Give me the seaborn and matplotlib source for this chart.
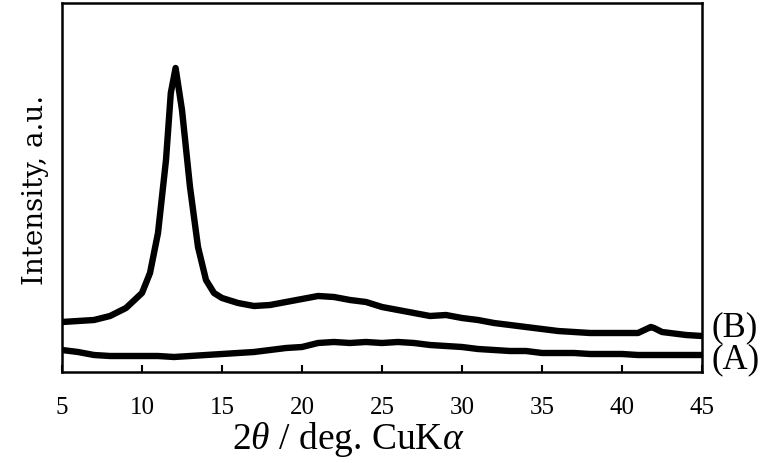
import numpy as np
import matplotlib
matplotlib.use("Agg")
import matplotlib.pyplot as plt
import pandas as pd
import seaborn as sns

# 2theta positions (deg) and intensities (arbitrary units)
two_theta_b = [5, 6, 7, 8, 9, 10, 10.5, 11, 11.5, 11.8, 12.1, 12.5, 13, 13.5, 14, 14.5,
               15, 16, 17, 18, 19, 20, 21, 22, 23, 24, 25, 26, 27, 28, 29, 30, 31, 32,
               33, 34, 35, 36, 37, 38, 39, 40, 41, 41.8, 42, 42.5, 43, 44, 45]
intens_b = [50, 51, 52, 56, 64, 79, 99, 139, 212, 279, 304, 262, 185, 125, 92, 79,
            74, 69, 66, 67, 70, 73, 76, 75, 72, 70, 65, 62, 59, 56, 57, 54, 52, 49,
            47, 45, 43, 41, 40, 39, 39, 39, 39, 45, 44, 40, 39, 37, 36]

two_theta_a = [5, 6, 7, 8, 9, 10, 11, 12, 13, 14, 15, 16, 17, 18, 19, 20, 21, 22, 23,
               24, 25, 26, 27, 28, 29, 30, 31, 32, 33, 34, 35, 36, 37, 38, 39, 40, 41,
               42, 43, 44, 45]
intens_a = [22, 20, 17, 16, 16, 16, 16, 15, 16, 17, 18, 19, 20, 22, 24, 25, 29, 30, 29,
            30, 29, 30, 29, 27, 26, 25, 23, 22, 21, 21, 19, 19, 19, 18, 18, 18, 17,
            17, 17, 17, 17]

sample_labels = ["(A)", "(B)"]

df = pd.concat([
    pd.DataFrame({"2theta": two_theta_a, "I": intens_a, "sample": sample_labels[0]}),
    pd.DataFrame({"2theta": two_theta_b, "I": intens_b, "sample": sample_labels[1]}),
])

sns.set_theme(style="white")
plt.rcParams["font.family"] = ["Liberation Serif", "DejaVu Serif"]
plt.rcParams["mathtext.fontset"] = "custom"
plt.rcParams["mathtext.rm"] = "Liberation Serif"
plt.rcParams["mathtext.it"] = "Liberation Serif:italic"
plt.rcParams["text.color"] = "black"
plt.rcParams["axes.labelcolor"] = "black"

fig = plt.figure(figsize=(7.66, 4.63), dpi=100)
ax = fig.add_axes([62 / 766, 1 - 372 / 463, 640 / 766, 369 / 463])

sns.lineplot(data=df, x="2theta", y="I", units="sample", estimator=None,
             color="black", linewidth=4.6, ax=ax, legend=False)

ax.set_xlim(5, 45)
ax.set_ylim(0, 369)
ax.set_xticks(range(5, 50, 5))
ax.set_yticks([])
ax.tick_params(axis="x", direction="in", length=5, width=1.5, labelsize=18,
               bottom=True, top=False, pad=18, colors="black")
for s in ax.spines.values():
    s.set_linewidth(1.8)
    s.set_color("black")

ax.set_xlabel(r"2$\theta$ / deg. CuK$\alpha$", fontsize=27)
ax.xaxis.set_label_coords(0.447, -0.13)
ax.set_ylabel("Intensity, a.u.", fontsize=20, family="DejaVu Serif")
ax.yaxis.set_label_coords(-0.02, 0.493)

# curve labels just right of the frame
ax.text(1.015, 44, sample_labels[1], transform=ax.get_yaxis_transform(),
        fontsize=25, va="center", ha="left")
ax.text(1.015, 12, sample_labels[0], transform=ax.get_yaxis_transform(),
        fontsize=25, va="center", ha="left")

fig.savefig("out.png", dpi=100)
